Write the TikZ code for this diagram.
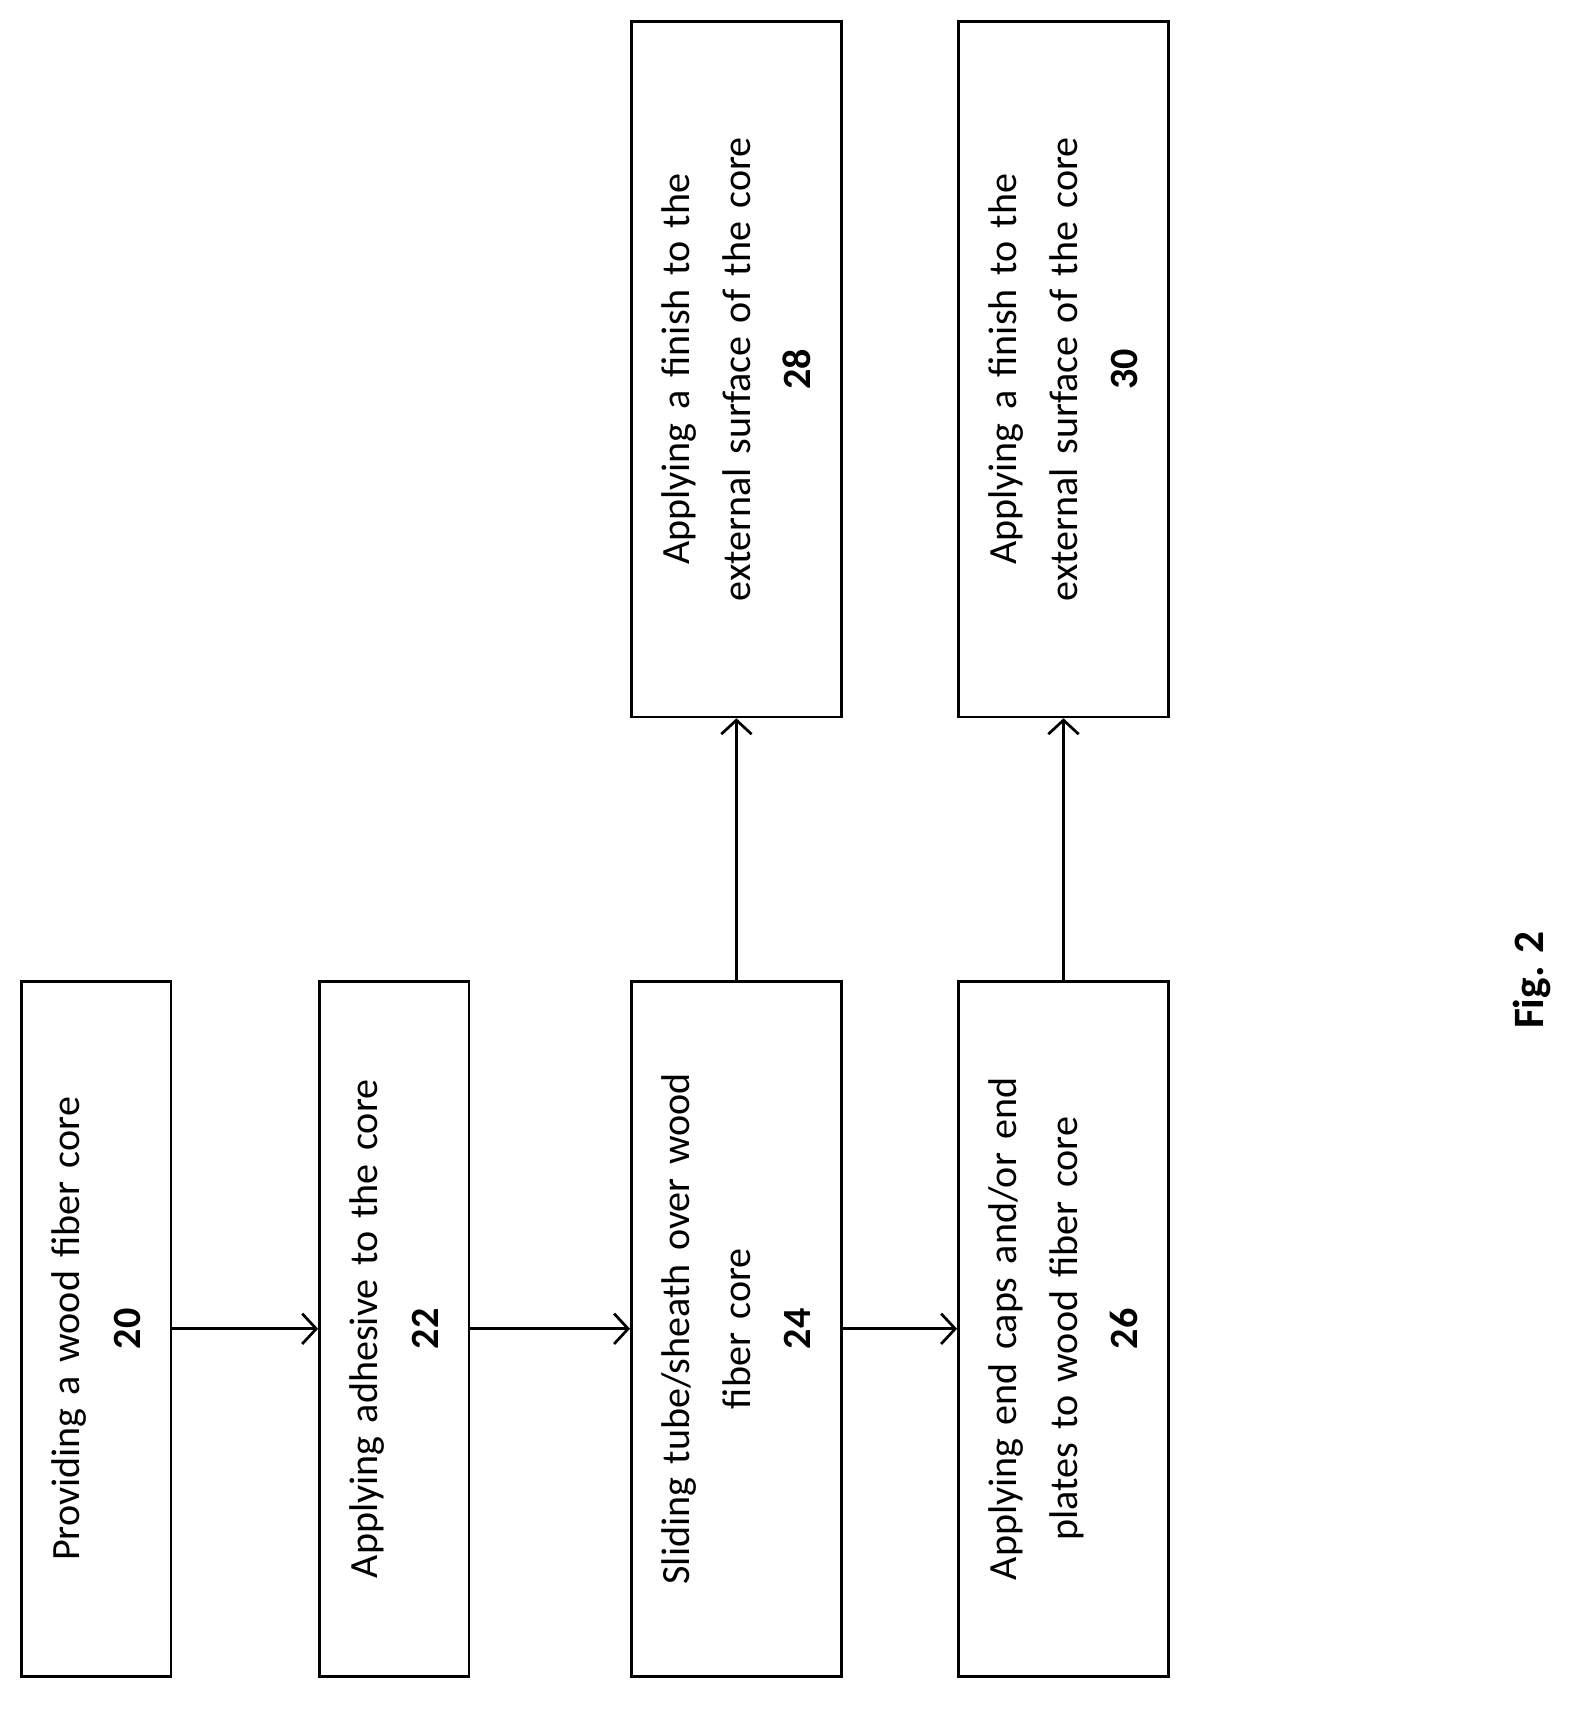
\documentclass[tikz,border=0pt]{standalone}
\usepackage{fontspec}
\setmainfont{Carlito}
\usetikzlibrary{arrows.meta}
\begin{document}
\begin{tikzpicture}[x=1pt,y=1pt,
  box/.style={draw,line width=2.5pt,rotate=90,minimum width=642pt,text width=600pt,align=center,font=\fontsize{37}{56}\selectfont,inner sep=0pt},
  arr/.style={line width=2.5pt,-{Straight Barb[length=13pt,width=28pt,line width=2.5pt]}}]
\useasboundingbox (0,0) rectangle (1470,1579);
\node[box,minimum height=138pt] (b20) at (89,352) {Providing a wood fiber core\\\textbf{20}};
\node[box,minimum height=138pt] (b22) at (364,352) {Applying adhesive to the core\\\textbf{22}};
\node[box,minimum height=194pt] (b24) at (680,352) {Sliding tube/sheath over wood\\fiber core\\\textbf{24}};
\node[box,minimum height=194pt] (b26) at (982,352) {Applying end caps and/or end\\plates to wood fiber core\\\textbf{26}};
\node[box,minimum height=194pt] (b28) at (680,1238) {Applying a finish to the\\external surface of the core\\\textbf{28}};
\node[box,minimum height=194pt] (b30) at (982,1238) {Applying a finish to the\\external surface of the core\\\textbf{30}};
\node[rotate=90,font=\fontsize{40}{48}\selectfont\bfseries] (fig) at (1415,674) {Fig. 2};
\draw[arr] (b20) -- (b22);
\draw[arr] (b22) -- (b24);
\draw[arr] (b24) -- (b26);
\draw[arr] (b24) -- (b28);
\draw[arr] (b26) -- (b30);
\end{tikzpicture}
\end{document}
